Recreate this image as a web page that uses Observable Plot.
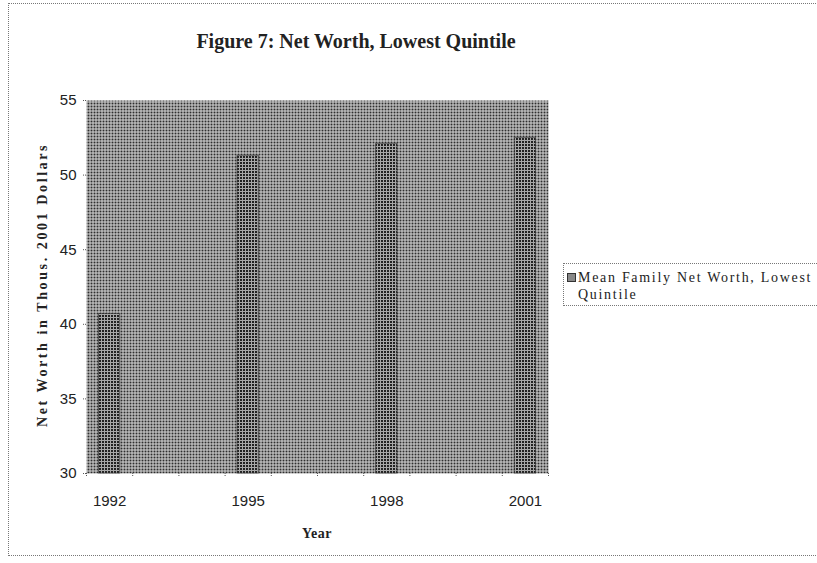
<!DOCTYPE html>
<html>
<head>
<meta charset="utf-8">
<script src="https://cdn.jsdelivr.net/npm/d3@7"></script>
<script src="https://cdn.jsdelivr.net/npm/@observablehq/plot@0.6"></script>
<style>
  html, body { margin: 0; padding: 0; background: #fff; overflow: hidden; }
  #wrap { position: relative; width: 817px; height: 563px; overflow: hidden; }
  #border { position: absolute; left: 8px; top: 3px; width: 830px; height: 553px; border: 1px dotted #777; box-sizing: border-box; }
  .serif { font-family: "Liberation Serif", "DejaVu Serif", serif; color: #222; }
  #title { position: absolute; left: 356px; top: 41px; transform: translate(-50%, -50%); font-size: 20px; font-weight: bold; white-space: nowrap; }
  #ylab { position: absolute; left: 43px; top: 285px; transform: translate(-50%, -50%) rotate(-90deg); font-size: 14px; font-weight: bold; white-space: nowrap; letter-spacing: 2.6px; }
  #xlab { position: absolute; left: 317px; top: 534px; transform: translate(-50%, -50%); font-size: 14px; font-weight: bold; white-space: nowrap; letter-spacing: 0.5px; }
  #legend { position: absolute; left: 563px; top: 263px; width: 300px; height: 43px; border: 1px dotted #777; box-sizing: border-box; font-size: 14px; letter-spacing: 1.7px; line-height: 17px; padding: 5px 0 0 14px; }
  #legend .sw { position: absolute; left: 3px; top: 9px; width: 7px; height: 7px; border: 1px solid #333; background: #888; }
  #chart { position: absolute; left: 0; top: 0; }
</style>
</head>
<body>
<div id="wrap">
  <div id="border"></div>
  <div id="chart"></div>
  <div id="title" class="serif">Figure 7: Net Worth, Lowest Quintile</div>
  <div id="ylab" class="serif">Net Worth in Thous. 2001 Dollars</div>
  <div id="xlab" class="serif">Year</div>
  <div id="legend" class="serif"><span class="sw"></span>Mean Family Net Worth, Lowest<br>Quintile</div>
</div>
<script>
const years = [1992, 1995, 1998, 2001];
const netWorth = [40.7, 51.3, 52.1, 52.5];
const yTicks = [30, 35, 40, 45, 50, 55];
const xDomain = [1991.5, 2001.5];
const yDomain = [30, 55];

const data = years.map((y, i) => ({year: y, value: netWorth[i]}));
const boundaries = d3.range(xDomain[0], xDomain[1] + 0.01, 1);
const halfBar = 0.23;

const plot = Plot.plot({
  width: 817,
  height: 563,
  marginLeft: 86,
  marginRight: 269,
  marginTop: 100,
  marginBottom: 90,
  style: {fontFamily: "'Liberation Sans', Arial, sans-serif", fontSize: "15px", color: "#222", background: "transparent"},
  x: {domain: xDomain, axis: null},
  y: {domain: yDomain, axis: null},
  marks: [
    Plot.frame({fill: "#888", stroke: "none"}),
    Plot.rectY(data, {x1: d => d.year - halfBar, x2: d => d.year + halfBar, y1: yDomain[0], y2: "value", fill: "#666", stroke: "#333", strokeOpacity: 0.7, strokeWidth: 1}),
    Plot.axisY({ticks: yTicks, tickSize: 4, tickPadding: 6, label: null, stroke: "#555", strokeDasharray: "1,1", tickFormat: d => String(d)}),
    Plot.axisX({ticks: boundaries, tickSize: 4, tickFormat: () => "", label: null, stroke: "#555", strokeDasharray: "1,1"}),
    Plot.axisX({ticks: years, tickSize: 0, tickPadding: 22, tickFormat: d => String(d), label: null})
  ]
});

document.getElementById("chart").appendChild(plot);

// hatched fills like the original print
const svg = d3.select(plot);
const defs = svg.insert("defs", ":first-child");
const bg = defs.append("pattern").attr("id", "bgpat").attr("width", 3).attr("height", 3).attr("patternUnits", "userSpaceOnUse");
bg.append("rect").attr("width", 3).attr("height", 3).attr("fill", "#dadada");
bg.append("rect").attr("width", 2).attr("height", 2).attr("fill", "#2e2e2e");
const bp = defs.append("pattern").attr("id", "barpat").attr("width", 3).attr("height", 3).attr("patternUnits", "userSpaceOnUse");
bp.append("rect").attr("width", 3).attr("height", 3).attr("fill", "#a8a8a8");
bp.append("rect").attr("width", 2).attr("height", 2).attr("fill", "#222");

svg.selectAll('[aria-label="frame"]').attr("fill", "url(#bgpat)");
svg.selectAll('[aria-label="frame"] rect').attr("fill", "url(#bgpat)");
svg.selectAll('[aria-label="rect"]').attr("fill", "url(#barpat)");
svg.selectAll('[aria-label="rect"] rect').attr("fill", "url(#barpat)");
</script>
</body>
</html>
